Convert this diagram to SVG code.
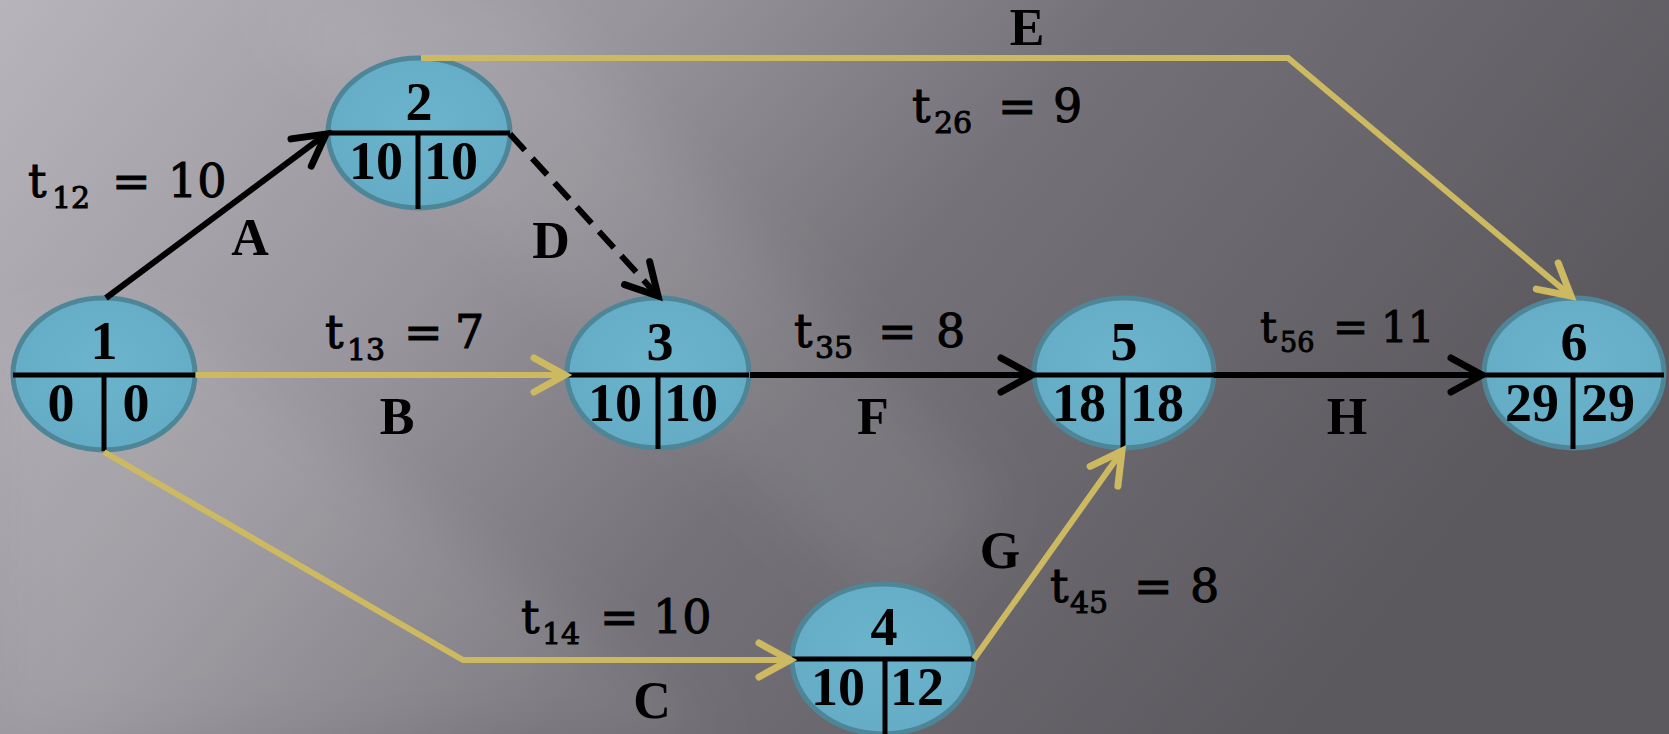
<svg xmlns="http://www.w3.org/2000/svg" width="1669" height="734" viewBox="0 0 1669 734">
<defs>
<linearGradient id="bg" x1="0" y1="0" x2="1" y2="0.35">
<stop offset="0" stop-color="#b7b4bc"/>
<stop offset="0.35" stop-color="#97949b"/>
<stop offset="0.6" stop-color="#747278"/>
<stop offset="1" stop-color="#5b595e"/>
</linearGradient>
<filter id="blur" x="-20%" y="-20%" width="140%" height="140%"><feGaussianBlur stdDeviation="30"/></filter>
<radialGradient id="nodefill" cx="0.5" cy="0.45" r="0.6">
<stop offset="0" stop-color="#6cb3cc"/>
<stop offset="1" stop-color="#64abc5"/>
</radialGradient>
<marker id="ab" markerUnits="userSpaceOnUse" markerWidth="60" markerHeight="60" viewBox="-40 -30 50 60" refX="0" refY="0" orient="auto">
<path d="M-31,-17 L0,0 L-31,17" fill="none" stroke="#000" stroke-width="7" stroke-linecap="round" stroke-linejoin="miter"/>
</marker>
<marker id="ag" markerUnits="userSpaceOnUse" markerWidth="60" markerHeight="60" viewBox="-40 -30 50 60" refX="0" refY="0" orient="auto">
<path d="M-31,-17 L0,0 L-31,17" fill="none" stroke="#cdb962" stroke-width="7" stroke-linecap="round" stroke-linejoin="miter"/>
</marker>
</defs>
<style>
.ell{fill:url(#nodefill);stroke:#4e8698;stroke-width:5}
.div{stroke:#000;stroke-width:5;fill:none}
.num{font-family:"Liberation Serif",serif;font-weight:bold;font-size:54px;fill:#000;text-anchor:middle}
.lab{font-family:"Liberation Serif",serif;font-weight:bold;font-size:52px;fill:#000;text-anchor:middle}
.t{font-family:"DejaVu Serif",serif;font-size:46px;fill:#000;stroke:#000;stroke-width:1}
.sub{font-size:30px}
.blk{stroke:#000;stroke-width:6;fill:none}
.gld{stroke:#cdb962;stroke-width:6;fill:none}
</style>
<rect x="0" y="0" width="1669" height="734" fill="url(#bg)"/>
<g filter="url(#blur)">
<polygon points="0,330 180,330 720,734 0,734" fill="#ffffff" opacity="0.08"/>
<polygon points="250,0 520,0 1000,500 900,620" fill="#ffffff" opacity="0.07"/>
</g>

<g id="node1">
<ellipse class="ell" cx="104" cy="374" rx="91" ry="76"/>
<line class="div" x1="13" y1="375" x2="195" y2="375"/>
<line class="div" x1="104" y1="375" x2="104" y2="451"/>
<text class="num" x="104" y="359">1</text>
<text class="num" x="61" y="421">0</text>
<text class="num" x="136" y="421">0</text>
</g>
<g id="node2">
<ellipse class="ell" cx="419" cy="133" rx="91" ry="75"/>
<line class="div" x1="328" y1="133" x2="510" y2="133"/>
<line class="div" x1="418" y1="133" x2="418" y2="209"/>
<text class="num" x="419" y="120">2</text>
<text class="num" x="376" y="179">10</text>
<text class="num" x="451" y="179">10</text>
</g>
<g id="node3">
<ellipse class="ell" cx="658" cy="373" rx="91" ry="75"/>
<line class="div" x1="567" y1="375" x2="749" y2="375"/>
<line class="div" x1="658" y1="375" x2="658" y2="449"/>
<text class="num" x="660" y="360">3</text>
<text class="num" x="615" y="421">10</text>
<text class="num" x="691" y="421">10</text>
</g>
<g id="node4">
<ellipse class="ell" cx="883" cy="659" rx="91" ry="75"/>
<line class="div" x1="792" y1="659" x2="974" y2="659"/>
<line class="div" x1="885" y1="659" x2="885" y2="734"/>
<text class="num" x="884" y="645">4</text>
<text class="num" x="838" y="705">10</text>
<text class="num" x="917" y="705">12</text>
</g>
<g id="node5">
<ellipse class="ell" cx="1124" cy="373" rx="90" ry="75"/>
<line class="div" x1="1034" y1="375" x2="1214" y2="375"/>
<line class="div" x1="1123" y1="375" x2="1123" y2="449"/>
<text class="num" x="1124" y="360">5</text>
<text class="num" x="1079" y="421">18</text>
<text class="num" x="1157" y="421">18</text>
</g>
<g id="node6">
<ellipse class="ell" cx="1574" cy="373" rx="90" ry="75"/>
<line class="div" x1="1484" y1="375" x2="1664" y2="375"/>
<line class="div" x1="1573" y1="375" x2="1573" y2="449"/>
<text class="num" x="1574" y="360">6</text>
<text class="num" x="1532" y="421">29</text>
<text class="num" x="1608" y="421">29</text>
</g>

<g id="connectors">
<line id="A" class="blk" x1="106" y1="298" x2="326" y2="134" marker-end="url(#ab)"/>
<line id="D" class="blk" x1="510" y1="134" x2="658" y2="296" stroke-dasharray="22,11" marker-end="url(#ab)"/>
<line id="B" class="gld" x1="196" y1="375" x2="565" y2="375" marker-end="url(#ag)"/>
<polyline id="C" class="gld" points="104,452 463,660 790,660" marker-end="url(#ag)"/>
<polyline id="E" class="gld" points="421,58 1288,58 1571,296" marker-end="url(#ag)"/>
<line id="F" class="blk" x1="750" y1="375" x2="1032" y2="375" marker-end="url(#ab)"/>
<line id="G" class="gld" x1="974" y1="659" x2="1122" y2="451" marker-end="url(#ag)"/>
<line id="H" class="blk" x1="1214" y1="375" x2="1482" y2="375" marker-end="url(#ab)"/>
</g>

<g id="edge-labels">
<text class="lab" x="250" y="255">A</text>
<text class="lab" x="397" y="434">B</text>
<text class="lab" x="652" y="718">C</text>
<text class="lab" x="551" y="258">D</text>
<text class="lab" x="1027" y="45">E</text>
<text class="lab" x="873" y="434">F</text>
<text class="lab" x="1000" y="568">G</text>
<text class="lab" x="1347" y="434">H</text>

<text class="t" x="28" y="197">t<tspan class="sub" x="52" y="208">12</tspan><tspan x="112" y="197">=</tspan><tspan x="168" y="197">10</tspan></text>
<text class="t" x="912" y="122">t<tspan class="sub" x="934" y="133">26</tspan><tspan x="998" y="122">=</tspan><tspan x="1053" y="122">9</tspan></text>
<text class="t" x="325" y="348">t<tspan class="sub" x="347" y="360">13</tspan><tspan x="404" y="348">=</tspan><tspan x="455" y="348">7</tspan></text>
<text class="t" x="794" y="347">t<tspan class="sub" x="815" y="358">35</tspan><tspan x="878" y="347">=</tspan><tspan x="936" y="347">8</tspan></text>
<text class="t" x="1260" y="342" style="font-size:42px">t<tspan class="sub" x="1280" y="352" style="font-size:27px">56</tspan><tspan x="1333" y="342">=</tspan><tspan x="1381" y="342">11</tspan></text>
<text class="t" x="521" y="633">t<tspan class="sub" x="542" y="644">14</tspan><tspan x="600" y="633">=</tspan><tspan x="653" y="633">10</tspan></text>
<text class="t" x="1050" y="602">t<tspan class="sub" x="1070" y="613">45</tspan><tspan x="1134" y="602">=</tspan><tspan x="1190" y="602">8</tspan></text>
</g>
</svg>
